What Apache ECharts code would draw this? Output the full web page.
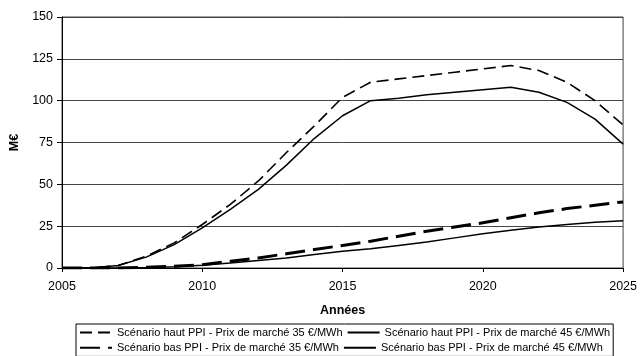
<!DOCTYPE html>
<html>
<head>
<meta charset="utf-8">
<script src="https://cdn.jsdelivr.net/npm/echarts@6/dist/echarts.min.js"></script>
<style>
  html, body { margin: 0; padding: 0; background: #fff; }
  #chart { width: 640px; height: 356px; }
</style>
</head>
<body>
<div id="chart"></div>
<script>
// Years on the horizontal axis
var years = [2005, 2006, 2007, 2008, 2009, 2010, 2011, 2012, 2013, 2014, 2015,
             2016, 2017, 2018, 2019, 2020, 2021, 2022, 2023, 2024, 2025];

// Series names
var nameHaut35 = 'Scénario haut PPI - Prix de marché 35 €/MWh';
var nameHaut45 = 'Scénario haut PPI - Prix de marché 45 €/MWh';
var nameBas35 = 'Scénario bas PPI - Prix de marché 35 €/MWh';
var nameBas45 = 'Scénario bas PPI - Prix de marché 45 €/MWh';

// Values in M€
var haut35 = [0, 0, 1.5, 7, 15, 26, 38, 52, 69, 85, 102,
              111, 113, 115, 117, 119, 121, 118, 111, 100, 85.5];
var haut45 = [0, 0, 1.5, 6.5, 14, 24, 35, 47, 61.5, 77.5, 91,
              100, 101.5, 103.5, 105, 106.5, 108, 105, 99, 89, 74];
var bas35 = [0, 0, 0, 0.5, 1, 2, 4, 6, 8.5, 11, 13.5,
             16, 19, 22, 24.5, 27, 30, 33, 35.5, 37.5, 39.5];
var bas45 = [0, 0, 0, 0.3, 0.8, 1.7, 3, 4.5, 6, 8, 10,
             11.5, 13.5, 15.5, 18, 20.5, 22.5, 24.5, 26, 27.3, 28.3];

// Axis ticks
var yTicks = [0, 25, 50, 75, 100, 125, 150];
var xTicks = [2005, 2010, 2015, 2020, 2025];

function pairs(vals) {
  return years.map(function (y, i) { return [y, vals[i]]; });
}

var font = 'Liberation Sans, Arial, sans-serif';

function lineSeries(name, vals, width, dash) {
  return {
    name: name,
    type: 'line',
    data: pairs(vals),
    symbol: 'none',
    smooth: false,
    silent: true,
    lineStyle: { color: '#000', width: width, type: dash || 'solid' },
    itemStyle: { color: '#000' }
  };
}

var chart = echarts.init(document.getElementById('chart'), null, { renderer: 'canvas' });
chart.setOption({
  animation: false,
  backgroundColor: '#fff',
  grid: {
    left: 62, right: 13, top: 17, bottom: 88,
    show: true, borderColor: '#444', borderWidth: 1, backgroundColor: '#fff'
  },
  xAxis: {
    type: 'value',
    min: xTicks[0], max: xTicks[xTicks.length - 1], interval: 5,
    name: 'Années',
    nameLocation: 'middle',
    nameGap: 36,
    nameTextStyle: { fontFamily: font, fontSize: 12.5, fontWeight: 'bold', color: '#000' },
    axisLine: { show: true, lineStyle: { color: '#000', width: 1 } },
    axisTick: { show: true, length: 4, lineStyle: { color: '#000' } },
    axisLabel: {
      fontFamily: font, fontSize: 12.5, color: '#000', margin: 12,
      formatter: function (v) { return String(v); }
    },
    splitLine: { show: false }
  },
  yAxis: {
    type: 'value',
    min: yTicks[0], max: yTicks[yTicks.length - 1], interval: 25,
    name: 'M€',
    nameLocation: 'middle',
    nameGap: 38,
    nameTextStyle: { fontFamily: font, fontSize: 12.5, fontWeight: 'bold', color: '#000' },
    axisLine: { show: true, lineStyle: { color: '#000', width: 1 } },
    axisTick: { show: true, length: 5, lineStyle: { color: '#000' } },
    axisLabel: { fontFamily: font, fontSize: 12.5, color: '#000', margin: 9 },
    splitLine: { show: true, lineStyle: { color: '#444', width: 1 } }
  },
  legend: {
    data: [nameHaut35, nameHaut45, nameBas35, nameBas45],
    left: 76, top: 324, width: 545,
    orient: 'horizontal',
    padding: [3, 3, 3, 3],
    itemGap: 4,
    itemWidth: 32, itemHeight: 14,
    borderColor: '#000', borderWidth: 1,
    backgroundColor: '#fff',
    selectedMode: false,
    itemStyle: { opacity: 0 },
    textStyle: { fontFamily: font, fontSize: 11, color: '#000', width: 228 }
  },
  series: [
    lineSeries(nameHaut35, haut35, 1.6, [12, 6]),
    lineSeries(nameHaut45, haut45, 1.5),
    lineSeries(nameBas35, bas35, 3, [20, 8]),
    lineSeries(nameBas45, bas45, 1.5)
  ]
});
</script>
</body>
</html>
